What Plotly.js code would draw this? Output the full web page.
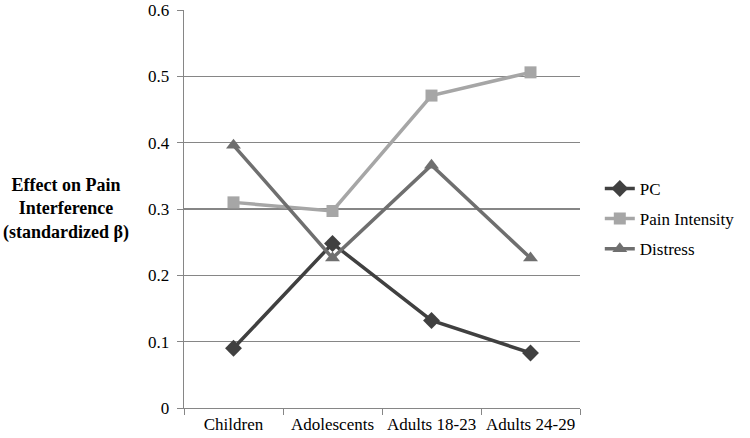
<!DOCTYPE html>
<html>
<head>
<meta charset="utf-8">
<script src="https://cdn.plot.ly/plotly-3.0.1.min.js"></script>
<style>
html,body{margin:0;padding:0;background:#fff;}
#chart{width:750px;height:438px;}
</style>
</head>
<body>
<div id="chart"></div>
<script>
var categories = ["Children", "Adolescents", "Adults 18-23", "Adults 24-29"];
var pcValues = [0.090, 0.248, 0.132, 0.083];
var painIntensityValues = [0.310, 0.297, 0.471, 0.506];
var distressValues = [0.396, 0.226, 0.366, 0.226];
var yTickValues = [0, 0.1, 0.2, 0.3, 0.4, 0.5, 0.6];
var yTickLabels = ["0", "0.1", "0.2", "0.3", "0.4", "0.5", "0.6"];

var serif = "Times New Roman";

var traces = [
  {x: categories, y: pcValues, name: "PC", type: "scatter", mode: "lines+markers", legendgroup: "a",
   line: {color: "#404040", width: 3.5}, marker: {symbol: "diamond", size: 13, color: "#404040"}},
  {x: categories, y: painIntensityValues, name: "Pain Intensity", type: "scatter", mode: "lines+markers", legendgroup: "b",
   line: {color: "#a6a6a6", width: 3.5}, marker: {symbol: "square", size: 12, color: "#a6a6a6"}},
  {x: categories, y: distressValues, name: "Distress", type: "scatter", mode: "lines+markers", legendgroup: "c",
   line: {color: "#6f6f6f", width: 3.5}, marker: {symbol: "triangle-up", size: 13, color: "#6f6f6f"}}
];

var layout = {
  width: 750, height: 438,
  margin: {l: 184, r: 166, t: 10, b: 30, pad: 0},
  paper_bgcolor: "#fff", plot_bgcolor: "#fff",
  showlegend: true,
  legend: {x: 1.05, y: 0.475, xanchor: "left", yanchor: "middle", font: {family: serif, size: 17, color: "#000"},
           traceorder: "grouped", tracegroupgap: 5, itemwidth: 30, bgcolor: "rgba(0,0,0,0)"},
  xaxis: {type: "category", range: [-0.5, 3.5], showgrid: false, showline: true, linecolor: "#868686", linewidth: 1.3,
          ticks: "outside", ticklen: 6, tickcolor: "#868686", tickson: "boundaries", tickangle: 0,
          tickfont: {family: serif, size: 17, color: "#000"}, zeroline: false},
  yaxis: {range: [0, 0.6], tickvals: yTickValues, ticktext: yTickLabels, showgrid: true, gridcolor: "#868686", gridwidth: 1.3,
          showline: true, linecolor: "#868686", linewidth: 1.3, ticks: "outside", ticklen: 6, tickcolor: "#868686",
          tickfont: {family: serif, size: 17, color: "#000"}, zeroline: false, ticklabelstandoff: 4},
  annotations: [{xref: "paper", yref: "paper", x: -0.299, y: 0.50, xanchor: "center", yanchor: "middle",
                 text: "<b>Effect on Pain<br>Interference<br>(standardized β)</b>", showarrow: false,
                 font: {family: serif, size: 18, color: "#000"}, align: "center"}]
};

Plotly.newPlot("chart", traces, layout, {displayModeBar: false, staticPlot: true});
</script>
</body>
</html>
